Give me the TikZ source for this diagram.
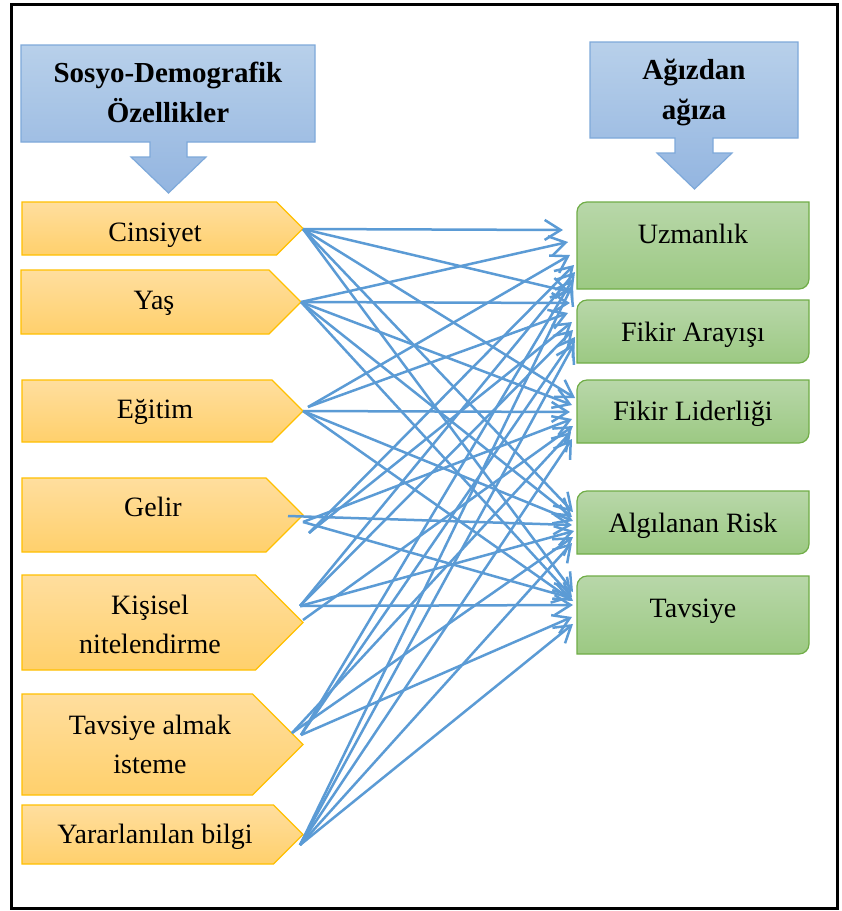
\documentclass[tikz,border=0pt]{standalone}
\usepackage{fontspec}
\setmainfont{Liberation Serif}
\usetikzlibrary{arrows.meta}
\definecolor{calloutTop}{HTML}{B8D0EA}
\definecolor{calloutBot}{HTML}{93B5E0}
\definecolor{calloutLine}{HTML}{7EA9DA}
\definecolor{chevTop}{HTML}{FFDE9E}
\definecolor{chevBot}{HTML}{FFD06C}
\definecolor{chevLine}{HTML}{FFC000}
\definecolor{boxTop}{HTML}{B8D7A9}
\definecolor{boxBot}{HTML}{9CC983}
\definecolor{boxLine}{HTML}{70AD47}
\definecolor{connblue}{HTML}{5B9BD5}
\newcommand\drawchev[4]{% L, T, B, tip x
  \path[chev] (#1,#2) -- ({#4-(#3-#2)/2},#2) -- (#4,{(#2+#3)/2}) -- ({#4-(#3-#2)/2},#3) -- (#1,#3) -- cycle;}
\newcommand\drawgbox[4]{% L, T, R, B
  \path[gbox] (#1,#4) -- (#1,#2+10) .. controls (#1,#2+4.5) and (#1+4.5,#2) .. (#1+10,#2) -- (#3,#2) -- (#3,#4-10) .. controls (#3,#4-4.5) and (#3-4.5,#4) .. (#3-10,#4) -- cycle;}
\begin{document}
\begin{tikzpicture}[x=1pt,y=-1pt,
  callout/.style={draw=calloutLine, line width=1.2pt, top color=calloutTop, bottom color=calloutBot},
  chev/.style={draw=chevLine, line width=1.2pt, top color=chevTop, bottom color=chevBot},
  gbox/.style={draw=boxLine, line width=1.2pt, top color=boxTop, bottom color=boxBot},
  lbl/.style={font=\fontsize{28}{39}\selectfont, align=center, inner sep=0pt},
  hdr/.style={font=\fontsize{29}{40}\selectfont\bfseries, align=center, inner sep=0pt},
  link/.style={draw=connblue, line width=2.5pt, -{Straight Barb[length=16pt,width=20pt]}}]
\useasboundingbox (0,0) rectangle (842,911);
\fill[white] (0,0) rectangle (842,911);
\draw[line width=3pt] (11,4) rectangle (837,908);

% header callouts
\path[callout] (21,45) -- (315,45) -- (315,142) -- (187,142) -- (187,157) -- (206,157) -- (168.5,193) -- (131,157) -- (150,157) -- (150,142) -- (21,142) -- cycle;
\node[hdr] (hleft) at (168,92.5) {Sosyo-Demografik\\Özellikler};
\path[callout] (590,42) -- (798,42) -- (798,138) -- (713,138) -- (713,153) -- (732,153) -- (694.5,189) -- (657,153) -- (675,153) -- (675,138) -- (590,138) -- cycle;
\node[hdr] (hright) at (694,92) {Ağızdan\\ağıza};

% left chevrons
\drawchev{22}{202}{255}{303}
\drawchev{21}{270}{334}{301}
\drawchev{22}{380}{442}{303}
\drawchev{22}{478}{552}{303}
\drawchev{22}{575}{670}{303}
\drawchev{22}{694}{795}{303}
\drawchev{22}{805}{864}{303}
\node[lbl, anchor=base] (cin) at (155,241) {Cinsiyet};
\node[lbl, anchor=base] (yas) at (154,309) {Yaş};
\node[lbl, anchor=base] (egi) at (155,418) {Eğitim};
\node[lbl, anchor=base] (gel) at (153,516) {Gelir};
\node[lbl] (kis) at (150,624) {Kişisel\\nitelendirme};
\node[lbl] (tav) at (150,744) {Tavsiye almak\\isteme};
\node[lbl, anchor=base] (yar) at (155,843) {Yararlanılan bilgi};

% right boxes
\drawgbox{577}{202}{809}{289}
\drawgbox{577}{300}{809}{363}
\drawgbox{577}{380}{809}{443}
\drawgbox{577}{491}{809}{554}
\drawgbox{577}{576}{809}{654}
\node[lbl, anchor=base] (uzm) at (693,243) {Uzmanlık};
\node[lbl, anchor=base] (fa) at (693,341) {Fikir Arayışı};
\node[lbl, anchor=base] (fl) at (693,420) {Fikir Liderliği};
\node[lbl, anchor=base] (ar) at (693,532) {Algılanan Risk};
\node[lbl, anchor=base] (tv) at (693,617) {Tavsiye};

% connector start points
\coordinate (sC) at (303,229);
\coordinate (sY) at (301,302);
\coordinate (sE) at (303,411);
\coordinate (sE2) at (308,407);
\coordinate (sG) at (303,522);
\coordinate (sG0) at (288,516);
\coordinate (sG2) at (309,533);
\coordinate (sK) at (300,606);
\coordinate (sK2) at (303,620);
\coordinate (sT) at (292,733);
\coordinate (sT2) at (301,735);
\coordinate (sB) at (300,845);

% connectors
\foreach \s/\yy/\xx [count=\i] in {sC/230/563,sY/242/568,sE2/255/570,sG2/265/574,sK/272/575,sT2/279/573,sB/286/572}
  {\coordinate (uz\i) at (\xx,\yy); \draw[link] (\s) -- (uz\i);}
\foreach \s/\yy/\xx [count=\i] in {sC/292/570,sY/303/570,sE2/313/568,sG2/322/572,sK/330/573,sT2/337/575,sB/344/574}
  {\coordinate (fa\i) at (\xx,\yy); \draw[link] (\s) -- (fa\i);}
\foreach \s/\yy/\xx [count=\i] in {sC/398/575,sY/405/572,sE/412/570,sG/419/572,sK2/426/573,sT/432/571,sB/439/572}
  {\coordinate (fl\i) at (\xx,\yy); \draw[link] (\s) -- (fl\i);}
\foreach \s/\yy/\xx [count=\i] in {sC/512/573,sY/517/572,sE/521/573,sG0/525/572,sK/531/574,sT/537/573,sB/543/572}
  {\coordinate (ar\i) at (\xx,\yy); \draw[link] (\s) -- (ar\i);}
\foreach \s/\yy/\xx [count=\i] in {sC/592/573,sY/597/572,sE/601/573,sG/598/571,sK/605/573,sT2/617/572,sB/624/573}
  {\coordinate (tv\i) at (\xx,\yy); \draw[link] (\s) -- (tv\i);}
\end{tikzpicture}
\end{document}
